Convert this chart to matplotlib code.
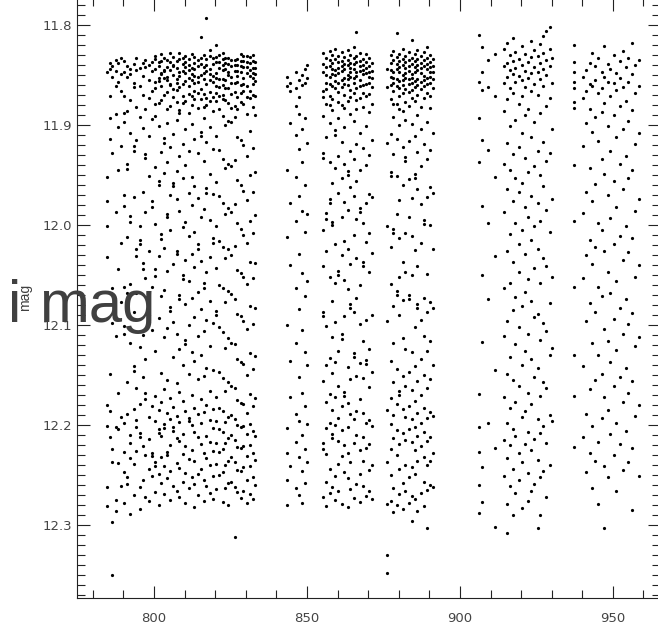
import matplotlib
matplotlib.use("Agg")
import matplotlib.pyplot as plt
from matplotlib.ticker import MultipleLocator, FormatStrFormatter

# i-band light curve: observing nights (days) and per-night magnitudes,
# magnitudes written as mmag fainter than 11.800
nights_a0 = [784.7, 785.6, 786.4, 787.5, 788.3, 789.2]
mags_a0 = [
    [47, 152, 176, 201, 232, 380, 401, 462, 481],
    [38, 44, 71, 93, 114, 349, 386, 412],
    [41, 52, 128, 263, 298, 424, 437, 497, 550],
    [35, 46, 61, 89, 187, 311, 402, 475, 486],
    [38, 57, 102, 145, 244, 368, 404, 438],
    [33, 49, 66, 121, 218, 277, 392, 461],
]

nights_a = [790.2, 791.3, 792.1, 793.4, 794.2, 795.5, 796.3, 797.1, 798.4, 799.2,
            800.3, 801.5, 802.2, 803.4, 804.1, 805.3, 806.2, 807.4, 808.1, 809.3,
            810.2, 811.5, 812.3, 813.1, 814.4, 815.2, 816.3, 817.1, 818.4, 819.2,
            820.3, 821.1, 822.4, 823.2, 824.3, 825.1, 826.4, 827.2, 828.3, 829.1,
            830.4, 831.2, 832.3, 833.1]
mags_a = [
    [36, 47, 71, 88, 97, 170, 181, 262, 301, 309, 398, 427, 447, 478],
    [41, 52, 86, 139, 144, 212, 268, 276, 357, 389, 452, 459],
    [44, 49, 75, 108, 191, 197, 259, 318, 410, 418, 433, 489],
    [39, 58, 62, 121, 126, 172, 287, 341, 346, 384, 439, 470],
    [33, 45, 82, 115, 224, 231, 268, 363, 395, 402, 426],
    [43, 61, 92, 201, 215, 219, 322, 379, 408, 412, 462, 484],
    [38, 51, 70, 103, 167, 238, 244, 310, 352, 421, 455],
    [35, 42, 84, 129, 133, 187, 253, 334, 368, 374, 430, 472],
    [40, 55, 73, 111, 151, 226, 290, 297, 392, 414, 444, 476],
    [37, 46, 66, 94, 176, 182, 262, 305, 381, 428, 431, 451],
    [31, 34, 44, 57, 63, 79, 91, 142, 199, 244, 251, 326, 371, 396, 437, 441, 467],
    [37, 41, 53, 56, 78, 101, 156, 160, 231, 293, 385, 404, 408, 449, 480],
    [29, 36, 48, 49, 61, 75, 127, 209, 214, 271, 348, 377, 411, 432, 458],
    [33, 45, 46, 53, 70, 113, 118, 148, 223, 265, 312, 364, 399, 403, 441, 469],
    [35, 42, 52, 55, 67, 84, 98, 137, 189, 192, 246, 303, 355, 388, 427, 430, 453],
    [28, 37, 45, 59, 60, 81, 122, 170, 205, 282, 286, 373, 394, 420, 446, 475],
    [32, 40, 41, 50, 64, 72, 109, 158, 161, 239, 297, 332, 382, 402, 406, 461],
    [36, 43, 54, 58, 65, 77, 95, 146, 174, 226, 229, 309, 358, 391, 413, 438, 466],
    [28, 34, 47, 51, 62, 85, 88, 131, 186, 270, 274, 324, 367, 397, 416, 443, 472],
    [33, 39, 46, 59, 71, 78, 119, 153, 202, 250, 254, 340, 376, 409, 429, 457],
    [31, 37, 42, 48, 56, 76, 104, 140, 197, 235, 279, 315, 319, 386, 421, 448, 478],
    [34, 40, 45, 53, 61, 69, 88, 126, 168, 211, 256, 300, 349, 393, 396, 434, 463],
    [29, 43, 49, 55, 71, 80, 99, 152, 180, 229, 273, 327, 370, 400, 425, 452],
    [32, 38, 44, 51, 58, 66, 74, 114, 161, 207, 242, 292, 336, 383, 407, 436, 459, 482],
    [35, 41, 52, 57, 68, 83, 128, 173, 219, 224, 267, 311, 354, 389, 412, 449, 470],
    [12, 33, 39, 50, 64, 74, 107, 111, 192, 236, 284, 330, 374, 398, 419, 444],
    [30, 42, 48, 54, 69, 82, 93, 136, 184, 258, 263, 306, 351, 387, 428, 455, 476],
    [-7, 34, 40, 46, 59, 73, 80, 117, 163, 168, 247, 295, 343, 380, 411, 433, 461],
    [25, 31, 44, 49, 55, 67, 76, 102, 149, 195, 232, 276, 321, 366, 395, 417, 440, 468],
    [33, 39, 51, 57, 72, 86, 124, 169, 213, 218, 298, 345, 384, 403, 426, 451, 474],
    [20, 32, 37, 48, 53, 61, 68, 76, 111, 157, 201, 243, 286, 290, 372, 396, 418, 439, 464],
    [30, 37, 43, 54, 62, 71, 84, 125, 171, 216, 260, 302, 347, 383, 404, 427, 450],
    [28, 34, 40, 45, 54, 60, 70, 74, 91, 134, 178, 222, 263, 307, 353, 386, 407, 424, 447, 477],
    [33, 38, 44, 55, 63, 75, 100, 143, 189, 233, 277, 323, 366, 397, 418, 440, 463],
    [33, 39, 47, 50, 63, 78, 96, 139, 183, 224, 266, 313, 357, 392, 413, 436, 458, 480],
    [35, 41, 52, 58, 69, 83, 97, 141, 187, 230, 269, 318, 361, 390, 410, 432, 457],
    [35, 40, 46, 58, 67, 81, 92, 135, 179, 221, 274, 319, 363, 394, 415, 437, 462, 512],
    [34, 40, 46, 51, 57, 72, 84, 112, 155, 198, 245, 289, 334, 375, 400, 422, 445, 467],
    [29, 36, 41, 47, 60, 68, 77, 115, 160, 204, 248, 291, 337, 378, 402, 423, 446, 473],
    [31, 36, 42, 53, 59, 66, 79, 120, 166, 210, 252, 296, 339, 379, 401, 421, 442, 466],
    [31, 37, 42, 48, 61, 72, 89, 131, 175, 218, 259, 304, 350, 388, 409, 431, 455, 478],
    [32, 38, 45, 51, 66, 73, 106, 150, 196, 237, 281, 328, 369, 399, 420, 441, 469],
    [30, 36, 43, 48, 53, 59, 70, 82, 123, 167, 208, 253, 299, 344, 381, 406, 428, 452, 474],
    [37, 43, 49, 56, 71, 90, 147, 190, 238, 283, 331, 373, 411, 435, 460],
]

nights_b0 = [843.4, 844.3, 846.5, 847.3, 848.4, 849.2, 850.1]
mags_b0 = [
    [52, 61, 145, 212, 300, 403, 428, 455, 480],
    [58, 66, 98, 178, 240, 336, 372, 441],
    [47, 63, 81, 110, 152, 196, 263, 318, 389, 417, 463],
    [55, 72, 89, 124, 171, 229, 284, 352, 396, 432, 470],
    [50, 60, 104, 137, 186, 248, 305, 368, 410, 446, 478],
    [44, 58, 93, 160, 207, 271, 327, 381, 424, 458],
    [40, 53, 118, 189, 256, 340, 399, 437],
]

nights_b = [855.3, 856.2, 857.4, 858.1, 859.3, 860.2, 861.4, 862.1, 863.3,
            864.2, 865.4, 866.1, 867.3, 868.2, 869.4, 870.1, 871.2]
mags_b = [
    [28, 39, 47, 66, 72, 91, 128, 133, 205, 241, 287, 291, 356, 418, 424, 472],
    [33, 42, 50, 58, 64, 79, 112, 188, 194, 226, 301, 340, 377, 403, 429, 457, 481],
    [26, 35, 41, 52, 59, 71, 80, 98, 137, 174, 178, 252, 333, 369, 398, 444, 468],
    [30, 38, 44, 49, 61, 74, 85, 158, 197, 200, 276, 312, 348, 385, 409, 413, 462],
    [24, 34, 45, 50, 56, 63, 105, 110, 143, 219, 258, 297, 337, 372, 400, 451, 475],
    [31, 37, 43, 48, 58, 67, 77, 93, 131, 168, 246, 250, 326, 361, 393, 416, 439, 466],
    [27, 36, 41, 46, 55, 62, 80, 117, 153, 192, 230, 309, 314, 381, 405, 431, 479],
    [32, 39, 44, 53, 59, 70, 83, 102, 139, 177, 216, 255, 291, 367, 371, 420, 447],
    [25, 35, 40, 50, 54, 60, 76, 146, 150, 185, 224, 264, 342, 378, 402, 428, 453, 482],
    [30, 38, 43, 47, 52, 65, 72, 89, 126, 162, 239, 279, 283, 354, 389, 437, 464],
    [22, 33, 39, 44, 53, 58, 68, 96, 134, 171, 210, 287, 328, 332, 394, 418, 473],
    [7, 31, 37, 47, 51, 63, 75, 84, 119, 156, 194, 233, 273, 351, 386, 410, 459],
    [28, 36, 41, 46, 55, 61, 73, 108, 145, 183, 187, 260, 299, 338, 374, 425, 449, 477],
    [34, 40, 45, 49, 60, 68, 82, 123, 198, 237, 241, 316, 353, 388, 412, 436, 461],
    [29, 37, 43, 48, 59, 71, 101, 140, 178, 217, 295, 335, 339, 398, 423, 471],
    [33, 41, 47, 52, 58, 69, 87, 130, 169, 208, 247, 324, 362, 395, 419, 445, 466],
    [38, 46, 53, 62, 79, 115, 172, 228, 290, 347, 401, 440, 474],
]

nights_c = [876.2, 877.3, 878.1, 879.4, 880.2, 881.3, 882.1, 883.4,
            884.2, 885.3, 886.1, 887.4, 888.2, 889.3, 890.1, 891.2]
mags_c = [
    [44, 62, 118, 201, 296, 385, 437, 479, 530, 548],
    [30, 38, 45, 52, 60, 74, 109, 147, 151, 222, 259, 336, 373, 399, 424, 450, 476],
    [26, 35, 47, 53, 58, 66, 79, 92, 129, 204, 208, 281, 318, 357, 390, 413, 463, 487],
    [8, 32, 39, 44, 54, 61, 79, 114, 151, 189, 266, 270, 344, 379, 405, 430, 480],
    [29, 36, 42, 47, 56, 63, 71, 84, 100, 175, 213, 252, 290, 366, 370, 419, 444, 469],
    [24, 34, 40, 50, 55, 60, 68, 86, 122, 160, 237, 275, 313, 351, 384, 408, 458, 484],
    [31, 37, 43, 48, 53, 64, 77, 95, 132, 136, 208, 247, 324, 361, 392, 415, 440, 466],
    [27, 35, 41, 46, 54, 59, 67, 81, 116, 154, 192, 270, 274, 347, 381, 404, 452, 478],
    [15, 33, 39, 49, 53, 58, 65, 73, 99, 173, 211, 250, 327, 365, 394, 417, 442, 471, 496],
    [29, 36, 42, 47, 56, 62, 76, 111, 149, 153, 225, 302, 341, 376, 402, 425, 449, 474],
    [25, 34, 40, 45, 54, 60, 70, 90, 127, 164, 241, 279, 283, 356, 388, 411, 436, 486],
    [31, 38, 43, 48, 57, 64, 82, 104, 141, 179, 218, 295, 334, 370, 398, 421, 468],
    [27, 35, 41, 51, 55, 61, 73, 119, 195, 199, 273, 311, 350, 383, 407, 432, 457, 481],
    [22, 33, 39, 44, 53, 59, 68, 97, 134, 172, 249, 287, 326, 363, 393, 416, 440, 465, 503],
    [30, 37, 42, 47, 52, 58, 71, 83, 125, 162, 200, 277, 316, 354, 387, 412, 436, 460],
    [34, 41, 47, 54, 63, 108, 168, 224, 283, 340, 391, 428, 462],
]

nights_d = [906.1, 907.3, 909.2, 911.4, 914.3, 915.4, 916.2, 917.4, 918.1, 919.3,
            920.2, 921.4, 922.1, 923.3, 924.2, 925.4, 926.1, 927.3, 928.2, 929.4, 930.2]
mags_d = [
    [10, 57, 93, 137, 369, 402, 427, 460, 488],
    [22, 47, 65, 115, 181, 250, 317, 442, 477],
    [35, 62, 125, 198, 274, 398],
    [29, 71, 152, 231, 345, 423, 502],
    [24, 41, 58, 86, 139, 187, 263, 311, 372, 415, 451],
    [18, 38, 52, 74, 118, 164, 226, 296, 349, 398, 433, 479, 508],
    [30, 45, 63, 101, 145, 209, 258, 332, 383, 420, 461],
    [13, 36, 49, 68, 129, 176, 237, 285, 355, 404, 444, 490],
    [27, 43, 57, 95, 153, 198, 272, 319, 377, 411, 468],
    [34, 51, 79, 122, 167, 219, 247, 302, 361, 428, 455],
    [21, 40, 55, 71, 108, 158, 205, 281, 340, 392, 437, 483],
    [29, 46, 62, 90, 133, 182, 229, 267, 326, 386, 419],
    [37, 53, 84, 147, 192, 254, 309, 368, 407, 448, 476],
    [16, 32, 48, 66, 112, 171, 215, 276, 334, 379, 425, 466],
    [25, 42, 59, 97, 141, 201, 243, 292, 352, 414, 459],
    [31, 47, 70, 126, 178, 224, 289, 343, 394, 435, 503],
    [19, 38, 54, 88, 150, 196, 258, 315, 371, 408, 452, 490],
    [11, 28, 44, 61, 117, 161, 233, 298, 357, 401, 446],
    [6, 35, 50, 81, 136, 185, 241, 306, 363, 418, 472],
    [2, 24, 41, 73, 128, 207, 278, 330, 390, 440],
    [33, 58, 104, 174, 252, 323, 396],
]

nights_e = [937.2, 940.3, 941.2, 942.4, 943.1, 944.3, 945.2, 946.4, 947.1, 948.3,
            949.2, 950.4, 951.1, 952.3, 953.2, 954.4, 955.1, 956.3, 957.2, 958.4]
mags_e = [
    [20, 37, 47, 57, 63, 77, 83, 140, 196, 262, 330, 371, 422],
    [52, 73, 121, 188, 253, 341, 412],
    [45, 66, 98, 167, 230, 296, 389, 447],
    [38, 59, 84, 143, 215, 278, 364, 428],
    [28, 61, 107, 176, 239, 318, 401, 463],
    [41, 55, 92, 159, 222, 287, 355, 436],
    [33, 68, 116, 198, 262, 330, 417, 479],
    [47, 63, 87, 134, 205, 271, 349, 393],
    [21, 52, 78, 149, 226, 304, 372, 441, 503],
    [39, 57, 101, 170, 247, 316, 385, 452],
    [44, 71, 126, 193, 268, 337, 409],
    [30, 58, 90, 156, 219, 294, 361, 430],
    [48, 65, 112, 182, 256, 325, 398, 466],
    [36, 53, 81, 139, 211, 283, 352, 419],
    [26, 62, 104, 164, 235, 309, 377, 445],
    [42, 76, 131, 201, 274, 343, 406],
    [33, 57, 96, 153, 227, 299, 368, 437],
    [18, 49, 85, 145, 213, 288, 356, 423, 485],
    [40, 68, 119, 186, 252, 321, 391],
    [35, 61, 108, 174, 240, 312, 380, 451],
]

mag_zero = 11.8

t = []
imag = []
for nights, mags in [(nights_a0, mags_a0), (nights_a, mags_a), (nights_b0, mags_b0),
                     (nights_b, mags_b), (nights_c, mags_c), (nights_d, mags_d),
                     (nights_e, mags_e)]:
    for night, vals in zip(nights, mags):
        for v in vals:
            t.append(night)
            imag.append(mag_zero + v / 1000.0)

fig = plt.figure(figsize=(6.58, 6.28), dpi=100)
W, H = 658.0, 628.0
ax = fig.add_axes([77 / W, 30 / H, (660 - 77) / W, 600 / H])

ax.plot(t, imag, 'o', color='black', ms=2.3, mew=0)

ax.set_xlim(774.8, 965.4)
ax.set_ylim(12.373, 11.773)

ax.xaxis.set_major_locator(MultipleLocator(50))
ax.xaxis.set_minor_locator(MultipleLocator(10))
ax.yaxis.set_major_locator(MultipleLocator(0.1))
ax.yaxis.set_minor_locator(MultipleLocator(0.01))
ax.yaxis.set_major_formatter(FormatStrFormatter('%.1f'))

ax.tick_params(which='both', direction='in', top=True, right=True,
               color='#222222', width=0.8, labelsize=9.5, labelcolor='#444444')
ax.tick_params(which='major', length=9)
ax.tick_params(which='minor', length=5.5)
ax.tick_params(axis='x', pad=10)
ax.tick_params(axis='y', pad=3.5)
for s in ax.spines.values():
    s.set_linewidth(0.8)
    s.set_color('#222222')

# y label drawn like the original: big "i", small rotated subscript, big "mag"
lab = dict(family='Liberation Sans', color='#404040')
fig.text(8 / W, (H - 322) / H, 'i', fontsize=43, va='baseline', ha='left', **lab)
fig.text(25 / W, (H - 297) / H, 'mag', fontsize=10, rotation=90,
         va='center', ha='center', **lab)
fig.text(39 / W, (H - 322) / H, 'mag', fontsize=43, va='baseline', ha='left', **lab)

fig.savefig('out.png', dpi=100)
